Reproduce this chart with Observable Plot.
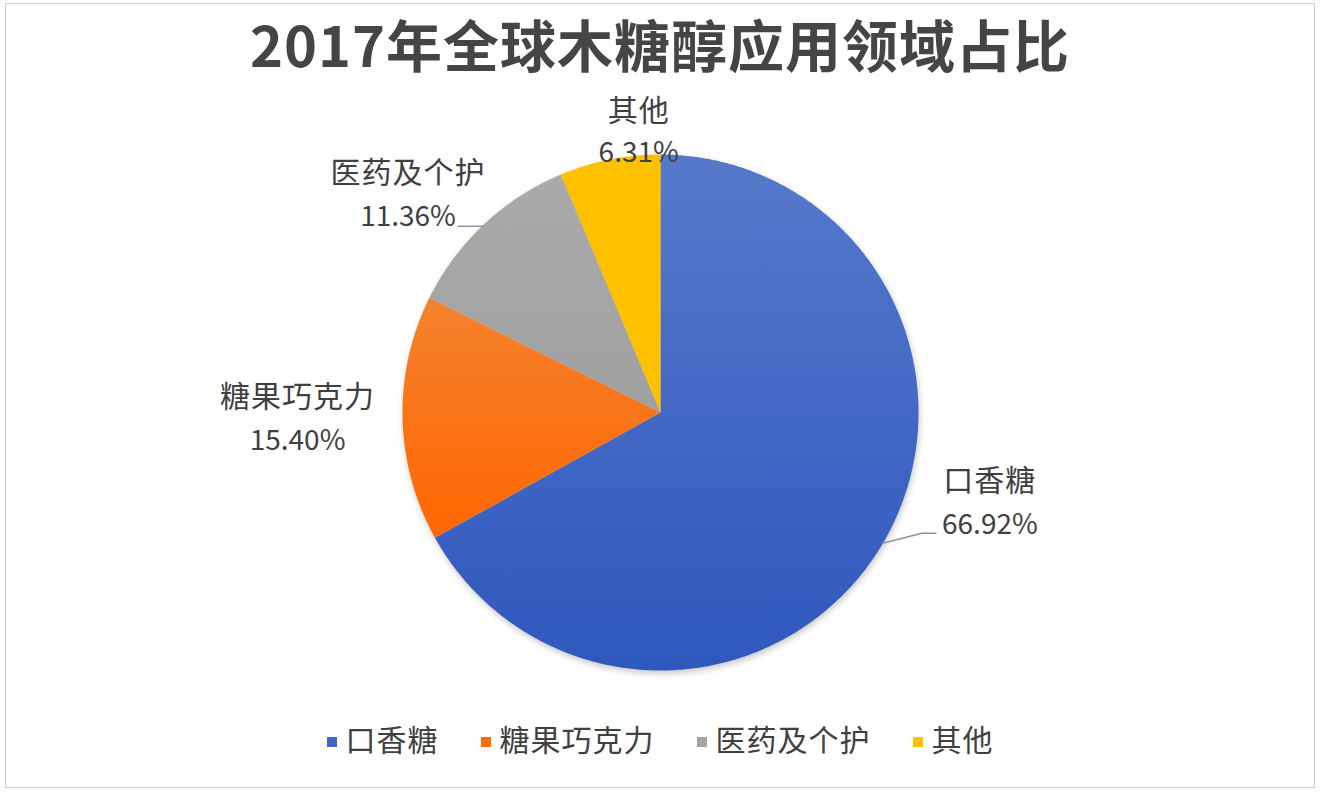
<!DOCTYPE html>
<html>
<head>
<meta charset="utf-8">
<script src="https://cdn.jsdelivr.net/npm/d3@7"></script>
<script src="https://cdn.jsdelivr.net/npm/@observablehq/plot@0.6"></script>
<style>
  html, body { margin: 0; padding: 0; background: #fff; }
  #wrap { position: relative; width: 1320px; height: 794px; overflow: hidden; background: #fff;
          font-family: "Noto Sans CJK SC", "Noto Sans", sans-serif; }
  #frame { position: absolute; left: 5px; top: 3px; width: 1308px; height: 783px; border: 1px solid #cfcfcf; }
  #title { position: absolute; left: 0; top: 15px; width: 1320px; text-align: center;
           font-size: 56px; line-height: 56px; font-weight: 700; color: #454545; letter-spacing: 1px; }
  #chart { position: absolute; left: 0; top: 95px; }
  #legend { position: absolute; left: 0; top: 716px; width: 1320px; height: 44px;
            display: flex; justify-content: center; align-items: center; gap: 42px;
            font-size: 30px; color: #404040; letter-spacing: 1px; }
  .item { display: flex; align-items: center; }
  .sw { width: 10px; height: 10px; margin-right: 9px; margin-top: 8px; }
</style>
</head>
<body>
<div id="wrap">
  <div id="frame"></div>
  <div id="title"></div>
  <div id="chart"></div>
  <div id="legend"></div>
</div>
<script>
// ---- data ----
const titleText = "2017年全球木糖醇应用领域占比";
const categories = ["口香糖", "糖果巧克力", "医药及个护", "其他"];
const shares = [66.92, 15.40, 11.36, 6.31];
const pctLabels = ["66.92%", "15.40%", "11.36%", "6.31%"];

// ---- styles / layout ----
const solidColors = ["#3F66C6", "#FF6D0A", "#A5A5A5", "#FFC000"];
const fills = ["url(#gBlue)", "url(#gOrange)", "url(#gGray)", "#FFC000"];
const R = 258;                 // pie radius in px
const CX = 660, CY = 317;      // pie center inside svg
const W = 1320, H = 605;
// label offsets (px) from the slice's mid-angle edge point
const labelOffsets = [
  {nx: 107, ny: -62, px: 107, py: -18},
  {nx: -105, ny: -21, px: -105, py: 22},
  {nx: -76, ny: -51, px: -76, py: -7},
  {nx: 29, ny: -48, px: 29, py: -7}
];
// leader line offsets (px) from the edge point; null = no leader
const leaderOffsets = [
  [[0, 0], [39, -10], [53, -10]],
  null,
  [[0, 2], [-26, 2]],
  null
];

document.getElementById("title").textContent = titleText;

const rows = categories.map((c, i) => ({name: c, share: shares[i], pct: pctLabels[i]}));
const arcs = d3.pie().sort(null).value(d => d.share).startAngle(0).endAngle(2 * Math.PI)(rows);

// polygon points (unit coords, y up) for each slice
const polyPts = [];
arcs.forEach(a => {
  polyPts.push({name: a.data.name, x: 0, y: 0});
  const n = Math.max(2, Math.ceil((a.endAngle - a.startAngle) / (Math.PI / 360)));
  for (let k = 0; k <= n; k++) {
    const t = a.startAngle + (a.endAngle - a.startAngle) * k / n;
    polyPts.push({name: a.data.name, x: Math.sin(t), y: Math.cos(t)});
  }
});

const labelPts = [];
const leaderPts = [];
arcs.forEach((a, i) => {
  const m = (a.startAngle + a.endAngle) / 2;
  const ex = Math.sin(m), ey = Math.cos(m);
  const o = labelOffsets[i];
  labelPts.push({name: a.data.name, pct: a.data.pct,
    nx: ex + o.nx / R, ny: ey - o.ny / R, px: ex + o.px / R, py: ey - o.py / R});
  if (leaderOffsets[i]) {
    leaderPts.push(...leaderOffsets[i].map(([dx, dy]) => ({name: a.data.name, x: ex + dx / R, y: ey - dy / R})));
  }
});

const font = "Noto Sans CJK SC";
const plot = Plot.plot({
  width: W, height: H, margin: 0,
  x: {domain: [-1, 1], range: [CX - R, CX + R], axis: null},
  y: {domain: [-1, 1], range: [CY + R, CY - R], axis: null},
  color: {domain: categories, range: fills},
  style: {background: "transparent", overflow: "visible"},
  marks: [
    Plot.line(polyPts, {x: "x", y: "y", z: "name", fill: "name", stroke: "none", curve: "linear"}),
    Plot.line(leaderPts, {x: "x", y: "y", z: "name", stroke: "#8497A8", strokeWidth: 1.5, curve: "linear"}),
    Plot.text(labelPts, {x: "nx", y: "ny", text: "name", fontSize: 30, fontFamily: font, fill: "#404040", textAnchor: "middle"}),
    Plot.text(labelPts, {x: "px", y: "py", text: "pct", fontSize: 28, fontFamily: font, fill: "#404040", textAnchor: "middle"})
  ]
});

// gradients + subtle shadow
const ns = "http://www.w3.org/2000/svg";
const defs = document.createElementNS(ns, "defs");
defs.innerHTML = `
  <linearGradient id="gBlue" x1="0" y1="0" x2="0" y2="1">
    <stop offset="0" stop-color="#5679CB"/><stop offset="1" stop-color="#2F58BE"/>
  </linearGradient>
  <linearGradient id="gOrange" x1="0" y1="0" x2="0" y2="1">
    <stop offset="0" stop-color="#F5822F"/><stop offset="1" stop-color="#FF6600"/>
  </linearGradient>
  <linearGradient id="gGray" x1="0" y1="0" x2="0" y2="1">
    <stop offset="0" stop-color="#AAAAAA"/><stop offset="1" stop-color="#A0A0A0"/>
  </linearGradient>`;
plot.insertBefore(defs, plot.firstChild);
const pieG = plot.querySelector('g[aria-label="line"]');
if (pieG) pieG.style.filter = "drop-shadow(1px 3px 3px rgba(0,0,0,0.22))";
const textGs = plot.querySelectorAll('g[aria-label="text"]');
if (textGs[0]) textGs[0].style.letterSpacing = "1px";

document.getElementById("chart").appendChild(plot);

// legend
const legend = document.getElementById("legend");
categories.forEach((c, i) => {
  const it = document.createElement("div");
  it.className = "item";
  const sw = document.createElement("span");
  sw.className = "sw";
  sw.style.background = solidColors[i];
  const tx = document.createElement("span");
  tx.textContent = c;
  it.appendChild(sw); it.appendChild(tx);
  legend.appendChild(it);
});
</script>
</body>
</html>
